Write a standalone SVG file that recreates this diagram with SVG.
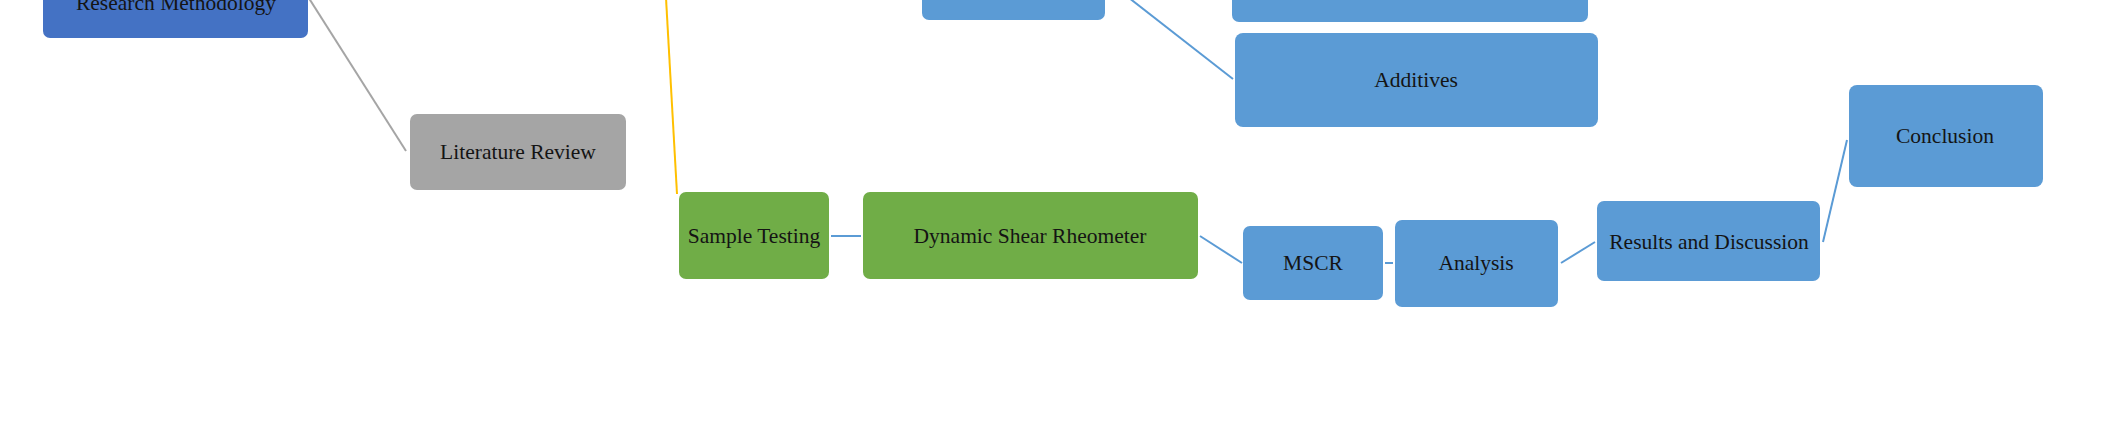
<svg xmlns="http://www.w3.org/2000/svg" width="2104" height="425" viewBox="0 0 2104 425">
<style>
.n{stroke:none}
.blue{fill:#5B9BD5}
.dblue{fill:#4472C4}
.green{fill:#70AD47}
.gray{fill:#A5A5A5}
text{font-family:"Liberation Serif","Times New Roman",serif;font-size:21.5px;fill:#141414;text-anchor:middle}
.c{fill:none;stroke-width:2}
.cb{stroke:#5B9BD5}
.cg{stroke:#A5A5A5}
.cy{stroke:#FFC000}
</style>
<rect width="2104" height="425" fill="#ffffff"/>
<g id="connectors">
<line class="c cg" x1="305" y1="-8" x2="406" y2="151"/>
<line class="c cy" x1="666" y1="-2" x2="677" y2="194"/>
<line class="c cb" x1="1124" y1="-6" x2="1233" y2="79"/>
<line class="c cb" x1="831" y1="236" x2="861" y2="236"/>
<line class="c cb" x1="1200" y1="236" x2="1242" y2="263"/>
<line class="c cb" x1="1385" y1="263" x2="1393" y2="263"/>
<line class="c cb" x1="1561" y1="263" x2="1595" y2="242"/>
<line class="c cb" x1="1823" y1="242" x2="1847" y2="140"/>
</g>
<g id="research-methodology">
<rect class="dblue" x="43" y="-40" width="265" height="78" rx="7"/>
<text x="176" y="10">Research Methodology</text>
</g>
<g id="literature-review">
<rect class="gray" x="410" y="114" width="216" height="76" rx="7"/>
<text x="518" y="159">Literature Review</text>
</g>
<g id="box-a">
<rect class="blue" x="922" y="-40" width="183" height="60" rx="7"/>
</g>
<g id="box-b">
<rect class="blue" x="1232" y="-40" width="356" height="62" rx="7"/>
</g>
<g id="additives">
<rect class="blue" x="1235" y="33" width="363" height="94" rx="8"/>
<text x="1416" y="87">Additives</text>
</g>
<g id="sample-testing">
<rect class="green" x="679" y="192" width="150" height="87" rx="7"/>
<text x="754" y="243">Sample Testing</text>
</g>
<g id="dsr">
<rect class="green" x="863" y="192" width="335" height="87" rx="7"/>
<text x="1030" y="243">Dynamic  Shear Rheometer</text>
</g>
<g id="mscr">
<rect class="blue" x="1243" y="226" width="140" height="74" rx="7"/>
<text x="1313" y="270">MSCR</text>
</g>
<g id="analysis">
<rect class="blue" x="1395" y="220" width="163" height="87" rx="7"/>
<text x="1476" y="270">Analysis</text>
</g>
<g id="results-discussion">
<rect class="blue" x="1597" y="201" width="223" height="80" rx="7"/>
<text x="1709" y="249">Results and Discussion</text>
</g>
<g id="conclusion">
<rect class="blue" x="1849" y="85" width="194" height="102" rx="8"/>
<text x="1945" y="143">Conclusion</text>
</g>
</svg>
